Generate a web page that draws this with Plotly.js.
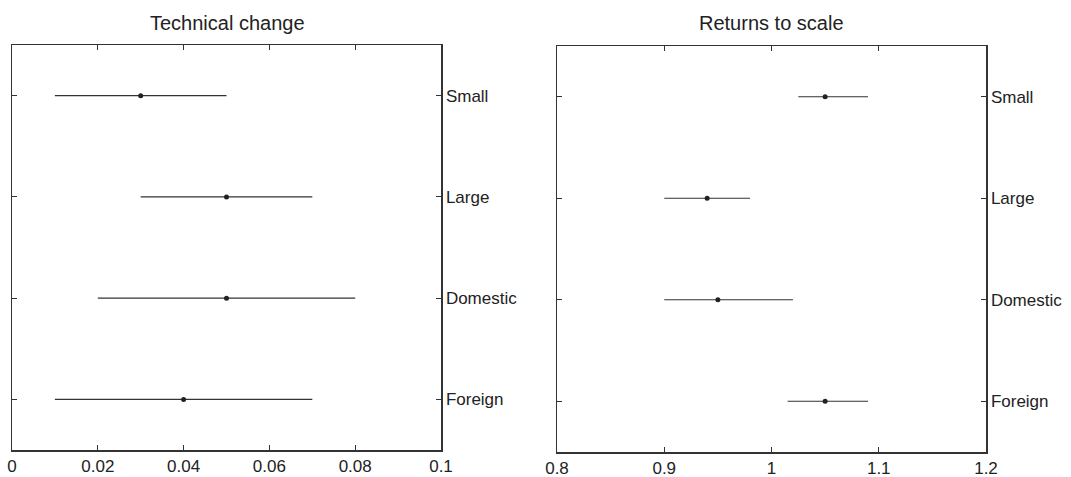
<!DOCTYPE html>
<html>
<head>
<meta charset="utf-8">
<script src="https://cdn.plot.ly/plotly-3.0.1.min.js"></script>
<style>html,body{margin:0;padding:0;background:#fff;}#chart{width:1071px;height:477px;}</style>
</head>
<body>
<div id="chart"></div>
<script>
const groups = ['Small', 'Large', 'Domestic', 'Foreign'];

const techEst = [0.03, 0.05, 0.05, 0.04];
const techLow = [0.01, 0.03, 0.02, 0.01];
const techHigh = [0.05, 0.07, 0.08, 0.07];

const rtsEst = [1.05, 0.94, 0.95, 1.05];
const rtsLow = [1.025, 0.90, 0.90, 1.015];
const rtsHigh = [1.09, 0.98, 1.02, 1.09];

const techTicks = [0, 0.02, 0.04, 0.06, 0.08, 0.1];
const techTickText = ['0', '0.02', '0.04', '0.06', '0.08', '0.1'];
const rtsTicks = [0.8, 0.9, 1.0, 1.1, 1.2];
const rtsTickText = ['0.8', '0.9', '1', '1.1', '1.2'];

const titles = ['Technical change', 'Returns to scale'];

function trace(est, lo, hi, xa, ya) {
  return {
    type: 'scatter', mode: 'markers',
    x: est, y: groups, xaxis: xa, yaxis: ya,
    marker: {symbol: 'circle', size: 5, color: '#222'},
    error_x: {
      type: 'data', symmetric: false,
      array: hi.map((h, i) => h - est[i]),
      arrayminus: lo.map((l, i) => est[i] - l),
      width: 0, thickness: 1.2, color: '#333'
    },
    showlegend: false, hoverinfo: 'skip'
  };
}

const W = 1071, H = 477;
const font = {family: 'Liberation Sans, Arial, sans-serif', size: 17, color: '#222'};

function xax(domain, range, tv, tt) {
  return {
    domain: domain, range: range, tickvals: tv, ticktext: tt,
    ticks: 'inside', ticklen: 5, tickcolor: '#333', tickwidth: 1,
    showline: true, linecolor: '#333', linewidth: 1.5, mirror: 'allticks',
    showgrid: false, zeroline: false, tickfont: font, fixedrange: true,
    ticklabelstandoff: 0
  };
}
function yax(domain, anchor) {
  return {
    domain: domain, anchor: anchor, type: 'category',
    categoryorder: 'array', categoryarray: groups.slice().reverse(),
    range: [-0.5, 3.5], side: 'right',
    ticks: 'inside', ticklen: 5, tickcolor: '#333', tickwidth: 1,
    showline: true, linecolor: '#333', linewidth: 1.5, mirror: 'allticks',
    showgrid: false, zeroline: false, tickfont: font, fixedrange: true,
    ticklabelstandoff: 0
  };
}

const layout = {
  width: W, height: H,
  margin: {l: 0, r: 0, t: 0, b: 0},
  paper_bgcolor: '#fff', plot_bgcolor: '#fff',
  font: font,
  xaxis: xax([12 / W, 441 / W], [0, 0.1], techTicks, techTickText),
  yaxis: yax([1 - 450 / H, 1 - 45 / H], 'x'),
  xaxis2: xax([557 / W, 986 / W], [0.8, 1.2], rtsTicks, rtsTickText),
  yaxis2: yax([1 - 452 / H, 1 - 46 / H], 'x2'),
  annotations: [
    {text: titles[0], x: 227 / W, y: 1 - 23 / H, xref: 'paper', yref: 'paper',
     showarrow: false, xanchor: 'center', yanchor: 'middle', font: {family: font.family, size: 20, color: '#222'}},
    {text: titles[1], x: 771 / W, y: 1 - 23 / H, xref: 'paper', yref: 'paper',
     showarrow: false, xanchor: 'center', yanchor: 'middle', font: {family: font.family, size: 20, color: '#222'}}
  ]
};
layout.xaxis.anchor = 'y';
layout.xaxis2.anchor = 'y2';

Plotly.newPlot('chart', [
  trace(techEst, techLow, techHigh, 'x', 'y'),
  trace(rtsEst, rtsLow, rtsHigh, 'x2', 'y2')
], layout, {displayModeBar: false, staticPlot: true});
</script>
</body>
</html>
